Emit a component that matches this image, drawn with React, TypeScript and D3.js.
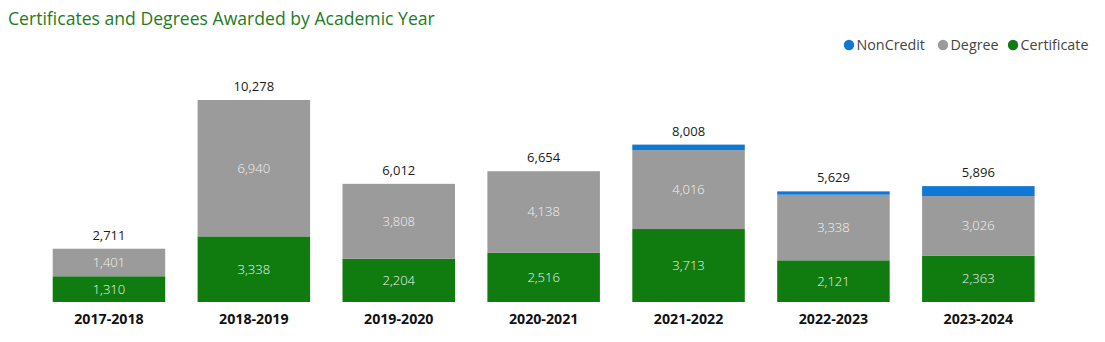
import React from "react";
import * as d3 from "d3";

const years = ["2017-2018", "2018-2019", "2019-2020", "2020-2021", "2021-2022", "2022-2023", "2023-2024"];
const certificate = [1310, 3338, 2204, 2516, 3713, 2121, 2363];
const degree = [1401, 6940, 3808, 4138, 4016, 3338, 3026];
const nonCredit = [0, 0, 0, 0, 279, 170, 507];
const totals = [2711, 10278, 6012, 6654, 8008, 5629, 5896];
const seriesNames = ["Certificate", "Degree", "NonCredit"];
const legendOrder = ["NonCredit", "Degree", "Certificate"];

const W = 1105;
const H = 342;
const FONT = "'Segoe UI', 'Open Sans', 'Noto Sans', sans-serif";
const colors: Record<string, string> = {
  Certificate: "#107C10",
  Degree: "#9B9B9B",
  NonCredit: "#0F78D4",
};

export default function App() {
  const x = d3.scaleBand<string>().domain(years).range([36.5, 1050.8]).paddingInner(0.2236).paddingOuter(0.1118);
  const y = d3.scaleLinear().domain([0, 10278]).range([302, 100]);
  const rows = years.map((yr, i) => ({ year: yr, Certificate: certificate[i], Degree: degree[i], NonCredit: nonCredit[i] }));
  const stack = d3.stack<any>().keys(seriesNames)(rows);
  const fmt = d3.format(",");

  const legendX: Record<string, number> = { NonCredit: 849, Degree: 943, Certificate: 1013 };

  return (
    <svg width={W} height={H} style={{ position: "absolute", left: 0, top: 0, fontFamily: FONT }}>
      <rect width={W} height={H} fill="#fff" />
      <text x={8} y={25} fontSize={17.6} fill="#1E7B1E">Certificates and Degrees Awarded by Academic Year</text>
      {legendOrder.map((k) => (
        <g key={k}>
          <circle cx={legendX[k]} cy={45} r={5.2} fill={colors[k]} />
          <text x={legendX[k] + 7.5} y={50} fontSize={14.3} fill="#444">{k}</text>
        </g>
      ))}
      {stack.map((s) => (
        <g key={s.key}>
          {s.map((d, i) => {
            const h = y(d[0]) - y(d[1]);
            if (h <= 0) return null;
            return (
              <rect key={i} x={x(years[i])} y={y(d[1])} width={x.bandwidth()} height={h} fill={colors[s.key]} />
            );
          })}
          {s.key !== "NonCredit" &&
            s.map((d, i) => (
              <text
                key={"t" + i}
                x={(x(years[i]) as number) + x.bandwidth() / 2}
                y={(y(d[0]) + y(d[1])) / 2 + 4.5}
                textAnchor="middle"
                fontSize={13}
                fontWeight={300}
                fill="#F2F2F2"
              >
                {fmt(d[1] - d[0])}
              </text>
            ))}
        </g>
      ))}
      {years.map((yr, i) => (
        <text key={"tot" + i} x={(x(yr) as number) + x.bandwidth() / 2} y={y(totals[i]) - 9} textAnchor="middle" fontSize={13} fill="#1a1a1a">
          {fmt(totals[i])}
        </text>
      ))}
      {years.map((yr, i) => (
        <text key={"lab" + i} x={(x(yr) as number) + x.bandwidth() / 2} y={323.5} textAnchor="middle" fontSize={14.2} fontWeight={700} fill="#111">
          {yr}
        </text>
      ))}
    </svg>
  );
}
